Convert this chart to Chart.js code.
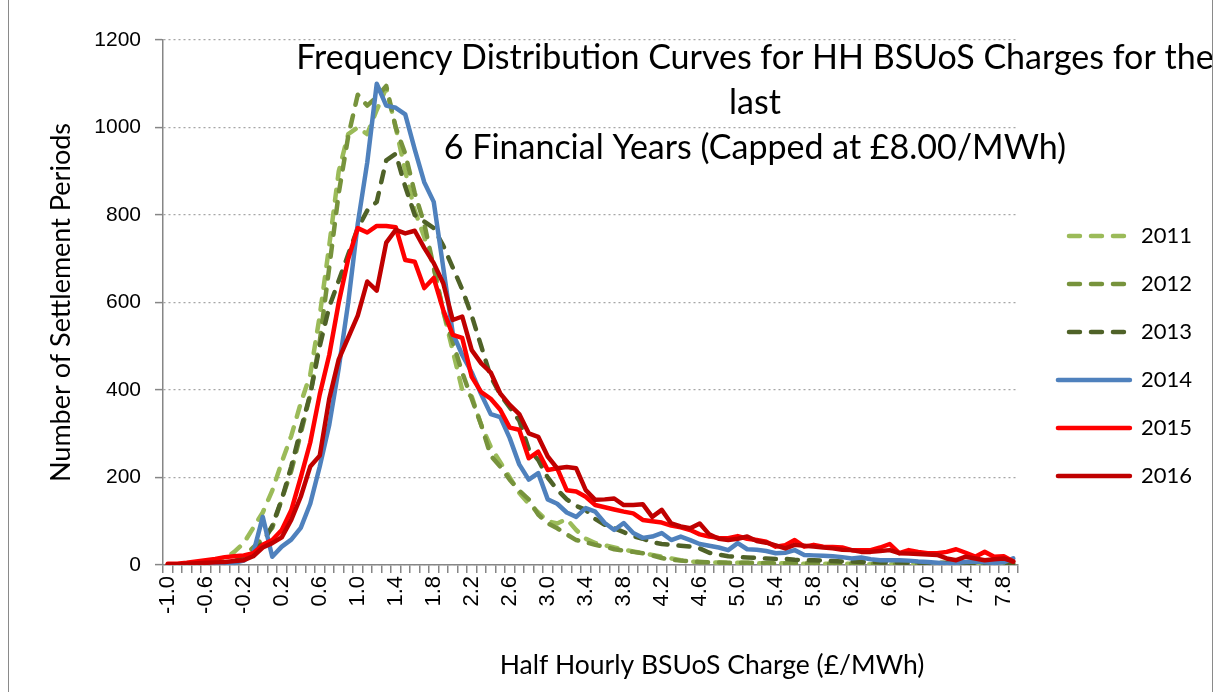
<!DOCTYPE html>
<html>
<head>
<meta charset="utf-8">
<title>Frequency Distribution Curves for HH BSUoS Charges</title>
<script src="https://cdn.jsdelivr.net/npm/chart.js"></script>
<style>
  html, body { margin: 0; padding: 0; background: #fff; }
  #wrap { position: relative; width: 1214px; height: 692px; overflow: hidden; }
  #frame { position: absolute; left: 8px; top: -2px; width: 1203px; height: 700px;
           border-left: 1px solid #8a8a8a; border-right: 1px solid #8a8a8a; pointer-events: none; }
</style>
</head>
<body>
<div id="wrap">
  <canvas id="chart" width="1214" height="692"></canvas>
  <div id="frame"></div>
</div>
<script>
// bins of the half hourly charge, £/MWh
var categories = ['-1.0','-0.9','-0.8','-0.7','-0.6','-0.5','-0.4','-0.3','-0.2','-0.1',
  '0.0','0.1','0.2','0.3','0.4','0.5','0.6','0.7','0.8','0.9',
  '1.0','1.1','1.2','1.3','1.4','1.5','1.6','1.7','1.8','1.9',
  '2.0','2.1','2.2','2.3','2.4','2.5','2.6','2.7','2.8','2.9',
  '3.0','3.1','3.2','3.3','3.4','3.5','3.6','3.7','3.8','3.9',
  '4.0','4.1','4.2','4.3','4.4','4.5','4.6','4.7','4.8','4.9',
  '5.0','5.1','5.2','5.3','5.4','5.5','5.6','5.7','5.8','5.9',
  '6.0','6.1','6.2','6.3','6.4','6.5','6.6','6.7','6.8','6.9',
  '7.0','7.1','7.2','7.3','7.4','7.5','7.6','7.7','7.8','7.9'];

var y2011 = [0,0,0,1,3,8,15,30,50,85,
  120,170,235,295,370,435,570,730,900,985,
  1000,985,1040,1090,1000,900,810,750,680,580,
  490,400,385,320,270,235,200,165,140,120,
  100,95,105,80,60,50,45,40,35,31,
  27,23,19,15,11,8,7,6,6,5,
  5,5,4,4,4,4,3,3,3,3,
  3,3,3,2,2,2,2,2,2,2,
  2,2,2,1,1,1,1,1,1,1];

var y2012 = [0,0,0,0,1,2,4,8,20,40,
  60,85,150,215,300,390,510,680,850,980,
  1075,1050,1070,1095,1000,940,850,780,680,580,
  510,440,380,320,250,225,195,170,150,115,
  95,84,70,57,52,46,42,36,33,30,
  27,22,16,12,10,8,7,6,6,5,
  5,5,5,4,4,4,4,4,3,3,
  3,3,3,3,3,2,2,2,2,2,
  2,2,2,2,2,2,2,2,2,2];

var y2013 = [0,0,0,0,0,2,4,8,15,30,
  50,90,150,225,310,390,500,590,650,710,
  770,810,830,925,940,865,800,785,770,730,
  680,630,570,500,430,390,360,330,265,240,
  200,172,150,135,126,105,92,84,75,66,
  60,52,48,46,44,42,38,28,24,20,
  18,17,16,15,14,14,12,11,11,10,
  9,8,8,7,7,6,6,6,5,5,
  5,5,5,4,4,4,4,4,4,4];

var y2014 = [0,0,0,0,1,2,3,5,10,27,
  110,19,42,58,85,140,225,320,450,600,
  780,920,1100,1050,1045,1030,950,875,830,680,
  530,480,440,390,345,338,290,230,195,210,
  150,140,120,110,130,122,96,80,96,73,
  62,65,73,57,65,57,48,44,40,34,
  50,36,35,32,27,28,34,23,22,21,
  20,18,15,17,13,11,11,11,10,8,
  7,5,3,5,7,8,6,5,6,15];

var y2015 = [3,3,5,8,11,14,18,20,22,27,
  46,57,80,125,200,280,390,480,600,700,
  770,760,775,775,772,697,693,633,656,583,
  526,519,430,395,380,355,314,309,244,259,
  217,221,171,168,156,137,132,127,122,118,
  103,100,97,90,86,80,70,65,62,61,
  66,60,57,53,42,45,57,42,46,42,
  41,40,34,34,34,40,48,27,34,30,
  27,27,30,36,28,19,30,19,20,8];

var y2016 = [2,2,3,4,5,6,7,9,11,20,
  40,50,63,103,156,225,250,380,470,520,
  570,648,627,737,766,758,764,725,690,644,
  560,568,491,461,440,392,366,345,301,293,
  248,221,224,221,171,149,150,152,137,137,
  139,110,126,95,88,84,95,70,60,57,
  60,65,55,51,45,38,46,44,42,40,
  38,35,34,30,30,32,34,27,26,25,
  24,23,15,11,19,15,11,13,15,8];

var years = ['2011', '2012', '2013', '2014', '2015', '2016'];
var series = [y2011, y2012, y2013, y2014, y2015, y2016];
var colours = ['#9BBB59', '#77933C', '#4F6228', '#4F81BD', '#FF0000', '#C00000'];
var dashed = [true, true, true, false, false, false];

var titleLines = ['Frequency Distribution Curves for HH BSUoS Charges for the',
  'last',
  '6 Financial Years (Capped at \u00a38.00/MWh)'];
var xTitle = 'Half Hourly BSUoS Charge (\u00a3/MWh)';
var yTitle = 'Number of Settlement Periods';

var calibri = 'Lato, "Open Sans", sans-serif';
var arial = '"Liberation Sans", Arial, sans-serif';

var datasets = years.map(function(yr, k) {
  return {
    label: yr,
    data: series[k],
    borderColor: colours[k],
    backgroundColor: colours[k],
    borderWidth: 4.5,
    borderDash: dashed[k] ? [11, 11] : [],
    borderCapStyle: 'round',
    borderJoinStyle: 'round',
    pointRadius: 0,
    tension: 0,
    fill: false,
    order: years.length - k   // later years drawn on top, like the original
  };
});

// title sits inside the plot and the x title is off centre, so draw those two by hand
var textPlugin = {
  id: 'textPlugin',
  afterDraw: function(chart) {
    var ctx = chart.ctx, area = chart.chartArea;
    ctx.save();
    ctx.fillStyle = '#000';
    ctx.textAlign = 'center';
    ctx.textBaseline = 'middle';
    ctx.font = '34px ' + calibri;
    for (var i = 0; i < titleLines.length; i++) {
      ctx.fillText(titleLines[i], area.right - 263, area.top + 18 + i * 45);
    }
    ctx.font = '26.5px ' + calibri;
    ctx.fillText(xTitle, area.left + 549, area.bottom + 100);
    ctx.restore();
  }
};

new Chart(document.getElementById('chart'), {
  type: 'line',
  data: { labels: categories, datasets: datasets },
  plugins: [textPlugin],
  options: {
    responsive: false,
    animation: false,
    layout: { padding: { top: 40, right: 12, bottom: 20, left: 0 } },
    plugins: {
      title: { display: false },
      tooltip: { enabled: false },
      legend: {
        position: 'right',
        labels: {
          color: '#000',
          font: { family: calibri, size: 22 },
          usePointStyle: true,
          pointStyleWidth: 72,
          boxWidth: 72,
          padding: 26,
          generateLabels: function(chart) {
            return chart.data.datasets.map(function(ds, i) {
              return {
                text: ds.label,
                fillStyle: ds.borderColor,
                strokeStyle: ds.borderColor,
                fontColor: '#000',
                lineWidth: ds.borderWidth,
                lineDash: ds.borderDash,
                lineDashOffset: ds.borderDash.length ? 11 : 0,
                lineCap: 'round',
                pointStyle: 'line',
                hidden: false,
                datasetIndex: i
              };
            });
          }
        }
      }
    },
    scales: {
      x: {
        type: 'category',
        offset: true,
        grid: { display: true, drawOnChartArea: false, drawTicks: true, tickLength: 8, offset: true,
                color: '#868686', lineWidth: 1.5 },
        border: { display: true, color: '#868686', width: 1.5 },
        ticks: {
          autoSkip: false, minRotation: 90, maxRotation: 90, padding: 3,
          color: '#000', font: { family: arial, size: 22 },
          callback: function(v, i) { return i % 4 === 0 ? categories[i] : ''; }
        },
        afterFit: function(s) { s.height = 107; }
      },
      y: {
        min: 0, max: 1200,
        ticks: { stepSize: 200, padding: 14, color: '#000', font: { family: arial, size: 21 },
                 callback: function(v) { return String(v); } },
        grid: { color: '#A6A6A6', lineWidth: 1.2, drawTicks: true, tickLength: 8,
                tickColor: '#868686', tickWidth: 1.5 },
        border: { display: true, color: '#868686', width: 1.5, dash: [2, 3] },
        title: { display: true, text: yTitle, color: '#000',
                 font: { family: calibri, size: 27 }, padding: { top: 45, bottom: 0 } },
        afterFit: function(s) { s.width = 163; }
      },
      gap: {
        position: 'right',
        display: true,
        grid: { display: false },
        border: { display: false },
        ticks: { display: false },
        afterFit: function(s) { s.width = 14; }
      }
    }
  }
});
</script>
</body>
</html>
